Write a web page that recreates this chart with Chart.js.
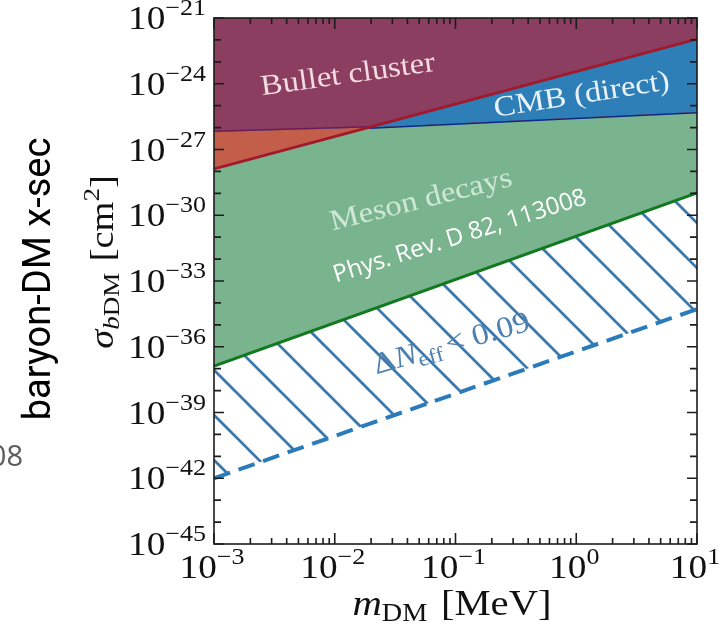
<!DOCTYPE html>
<html>
<head>
<meta charset="utf-8">
<script src="https://cdn.jsdelivr.net/npm/chart.js@4.4.1/dist/chart.umd.min.js"></script>
<style>
  html, body { margin: 0; padding: 0; background: #ffffff; }
  canvas { display: block; }
</style>
</head>
<body>
<canvas id="chart" width="728" height="634"></canvas>
<script>
// Dark-matter masses (MeV) at which each boundary is given
const edgeMass = [1e-3, 1e1];
const kinkMass = [1e-3, 1.95e-2, 1e1];

// Boundaries of the excluded regions, sigma_bDM in cm^2
const bulletBound = [1.3e-28, 1.05e-26, 1.1e-22];   // red line
const cmbBound    = [6.3e-27, 1.0e-26, 5.1e-26];    // flat line
const mesonBound  = [1.32e-37, 1.05e-29];           // green line
const neffBound   = [1.0e-42, 5.2e-35];             // dashed line

// Decade exponents that carry a label
const xTickExp = [-3, -2, -1, 0, 1];
const yTickExp = [-21, -24, -27, -30, -33, -36, -39, -42, -45];

const PURPLE = '#8b3e5f';
const ORANGE = '#c35e4b';
const BLUE   = '#2e7eb8';
const GREEN  = '#7ab48e';

const SERIF = '"Liberation Serif", "Times New Roman", serif';
const SX = 1.13;   // horizontal stretch of the math-style text

const toPoints = (xs, ys) => xs.map((x, i) => ({ x: x, y: ys[i] }));

const canvas = document.getElementById('chart');
const ctx = canvas.getContext('2d');

// Diagonal "\\" hatching for the Delta N_eff band
function makeHatch() {
  const s = 45;
  const tile = document.createElement('canvas');
  tile.width = s; tile.height = s;
  const g = tile.getContext('2d');
  g.strokeStyle = '#3a78ae';
  g.lineWidth = 2.7;
  for (const off of [-s, 0, s]) {
    g.beginPath();
    g.moveTo(24 + off - 10, -10);
    g.lineTo(24 + off + s + 10, s + 10);
    g.stroke();
  }
  return ctx.createPattern(tile, 'repeat');
}

// Flat boundary: purple left of the crossing, navy right of it
function flatLineColor(context) {
  const chart = context.chart;
  const area = chart.chartArea;
  if (!area || !chart.scales.x) return '#0c2a8a';
  const px = chart.scales.x.getPixelForValue(kinkMass[1]);
  const grad = chart.ctx.createLinearGradient(area.left, 0, area.right, 0);
  const f = Math.min(Math.max((px - area.left) / (area.right - area.left), 0), 1);
  grad.addColorStop(0, '#6e1b58');
  grad.addColorStop(f, '#6e1b58');
  grad.addColorStop(Math.min(f + 0.001, 1), '#0c2a8a');
  grad.addColorStop(1, '#0c2a8a');
  return grad;
}

// Draws a run of text pieces (for sub/superscripts) at one anchor
function richText(c, parts, x, y, o) {
  c.save();
  c.translate(x, y);
  if (o.rot) c.rotate(o.rot);
  c.scale(o.sx || 1, 1);
  c.textBaseline = 'alphabetic';
  c.textAlign = 'left';
  const fontOf = p => (p.style || '') + ' ' + (p.weight || '') + ' ' + p.size + 'px ' + (p.family || SERIF);
  let total = 0;
  const widths = parts.map(p => {
    c.font = fontOf(p);
    const w = c.measureText(p.t).width + (p.gap || 0);
    total += w;
    return w;
  });
  let cx = o.align === 'right' ? -total : (o.align === 'center' ? -total / 2 : 0);
  c.fillStyle = o.color || '#000';
  parts.forEach((p, i) => {
    c.font = fontOf(p);
    c.fillText(p.t, cx, p.dy || 0);
    cx += widths[i];
  });
  c.restore();
}

const expText = e => (e < 0 ? '\u2212' + Math.abs(e) : String(e));

const framePlugin = {
  id: 'frameAndLabels',
  afterDatasetsDraw(chart) {
    const c = chart.ctx;
    const a = chart.chartArea;
    const xs = chart.scales.x, ys = chart.scales.y;
    c.save();
    c.strokeStyle = '#1c1c1c';
    c.lineWidth = 1.6;
    // y ticks: every decade, longer at labelled ones
    for (let e = -45; e <= -21; e++) {
      const py = ys.getPixelForValue(Math.pow(10, e));
      const len = yTickExp.includes(e) ? 10 : 7;
      c.beginPath();
      c.moveTo(a.left, py); c.lineTo(a.left + len, py);
      c.moveTo(a.right, py); c.lineTo(a.right - len, py);
      c.stroke();
    }
    // x ticks: decades and 2..9 sub-decades
    for (let e = -3; e <= 1; e++) {
      for (let m = 1; m <= 9; m++) {
        if (e === 1 && m > 1) break;
        const px = xs.getPixelForValue(m * Math.pow(10, e));
        const len = m === 1 ? 11 : 6;
        c.beginPath();
        c.moveTo(px, a.bottom); c.lineTo(px, a.bottom - len);
        c.moveTo(px, a.top); c.lineTo(px, a.top + len);
        c.stroke();
      }
    }
    c.strokeRect(a.left, a.top, a.right - a.left, a.bottom - a.top);
    c.restore();

    // tick labels
    yTickExp.forEach(e => {
      const py = ys.getPixelForValue(Math.pow(10, e));
      richText(c, [
        { t: '10', size: 33 },
        { t: expText(e), size: 23, dy: -14 }
      ], a.left - 8, py + 11, { align: 'right', sx: SX, color: '#111' });
    });
    xTickExp.forEach(e => {
      const px = xs.getPixelForValue(Math.pow(10, e));
      richText(c, [
        { t: '10', size: 33 },
        { t: expText(e), size: 23, dy: -14 }
      ], px - 2, 578, { align: 'center', sx: SX, color: '#111' });
    });

    // axis titles
    richText(c, [
      { t: 'm', size: 36, style: 'italic' },
      { t: 'DM', size: 25, dy: 6, gap: 12 },
      { t: '[MeV]', size: 36 }
    ], 452, 615, { align: 'center', sx: SX, color: '#111' });

    richText(c, [
      { t: '\u03c3', size: 34, style: 'italic' },
      { t: 'b', size: 24, style: 'italic', dy: 6 },
      { t: 'DM', size: 24, dy: 6, gap: 10 },
      { t: '[cm', size: 34 },
      { t: '2', size: 24, dy: -14 },
      { t: ']', size: 34 }
    ], 113, 262, { align: 'center', sx: SX, rot: -Math.PI / 2, color: '#111' });

    richText(c, [
      { t: 'baryon-DM x-sec', size: 38, family: 'Roboto, "Noto Sans", sans-serif' }
    ], 50, 279, { align: 'center', rot: -Math.PI / 2, color: '#000' });

    richText(c, [
      { t: '08', size: 29, family: '"Open Sans", "Noto Sans", sans-serif' }
    ], 23, 466, { align: 'right', color: '#5c5c5c' });

    // region names
    richText(c, [{ t: 'Bullet cluster', size: 29 }],
      349, 83, { align: 'center', sx: SX, rot: -8 * Math.PI / 180, color: '#f3dae0' });
    richText(c, [{ t: 'CMB (direct)', size: 29 }],
      583, 103, { align: 'center', sx: SX, rot: -9 * Math.PI / 180, color: '#eaf2f9' });
    richText(c, [{ t: 'Meson decays', size: 29 }],
      423, 208, { align: 'center', sx: SX, rot: -14 * Math.PI / 180, color: '#cfe7d5' });
    richText(c, [
      { t: '\u0394', size: 30 },
      { t: 'N', size: 30, style: 'italic' },
      { t: 'eff', size: 21, dy: 5, gap: 4 },
      { t: '< 0.09', size: 30 }
    ], 454, 352, { align: 'center', sx: SX, rot: -16 * Math.PI / 180, color: '#4c80b0' });

    richText(c, [
      { t: 'Phys. Rev. D 82, 113008', size: 24, family: '"Open Sans", "Noto Sans", sans-serif' }
    ], 462, 243, { align: 'center', rot: -17.4 * Math.PI / 180, color: '#ffffff' });
  }
};

new Chart(ctx, {
  type: 'line',
  data: {
    datasets: [
      {
        label: 'CMB (direct)',
        data: toPoints(kinkMass, bulletBound),
        borderColor: '#a3182a',
        borderWidth: 2.8,
        pointRadius: 0,
        fill: { target: 1, above: BLUE, below: ORANGE }
      },
      {
        label: 'Bullet cluster',
        data: toPoints(kinkMass, cmbBound),
        borderWidth: 3,
        pointRadius: 0,
        backgroundColor: PURPLE,
        borderColor: flatLineColor,
        fill: 'end'
      },
      {
        label: 'Meson decays',
        data: toPoints(edgeMass, mesonBound),
        borderColor: '#12791f',
        borderWidth: 3,
        pointRadius: 0,
        backgroundColor: GREEN,
        fill: 'end'
      },
      {
        label: '\u0394N_eff < 0.09',
        data: toPoints(edgeMass, neffBound),
        borderColor: '#2b7bbb',
        borderWidth: 4,
        borderDash: [17, 9],
        pointRadius: 0,
        backgroundColor: makeHatch(),
        fill: { target: 2 }
      }
    ]
  },
  options: {
    responsive: false,
    animation: false,
    devicePixelRatio: 1,
    layout: { padding: { left: 214, right: 31, top: 18, bottom: 90 } },
    plugins: { legend: { display: false }, tooltip: { enabled: false } },
    scales: {
      x: { type: 'logarithmic', min: 1e-3, max: 1e1, display: false },
      y: { type: 'logarithmic', min: 1e-45, max: 1e-21, display: false }
    }
  },
  plugins: [framePlugin]
});
</script>
</body>
</html>
